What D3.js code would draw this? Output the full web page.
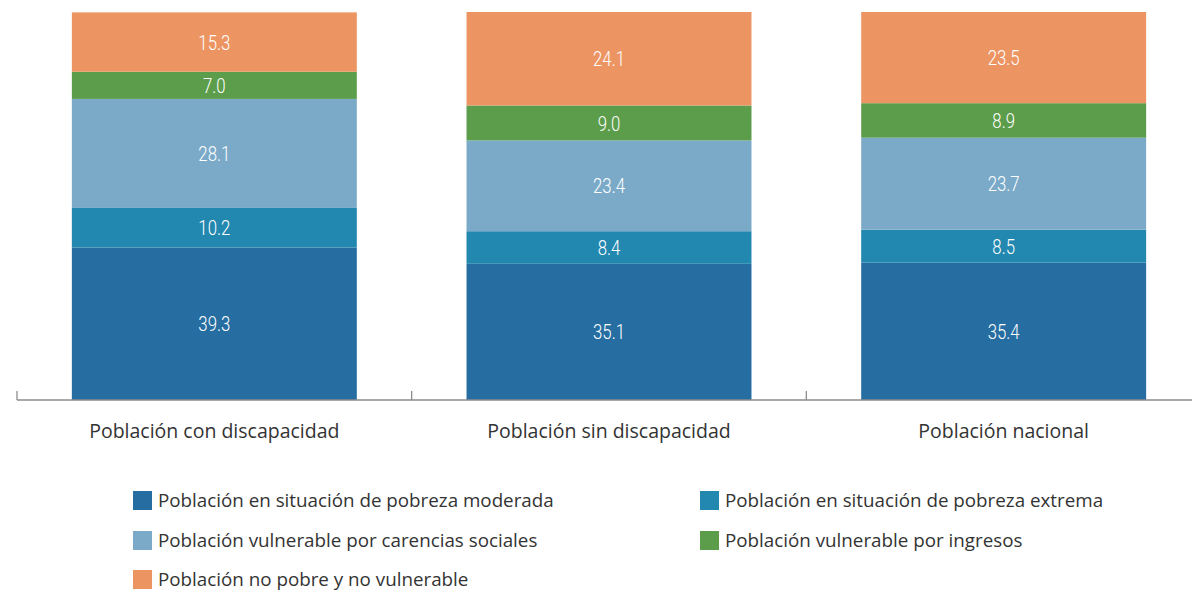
<!doctype html>
<html>
  <head>
    <meta charset="utf-8">
    <script src="https://cdn.jsdelivr.net/npm/d3@7"></script>
    <style>
      body { margin: 0; background: #fff; }
      svg { display: block; }
    </style>
  </head>
  <body>
    <svg id="chart" width="1192" height="594"></svg>

    <script>
      var categories = ["Población con discapacidad", "Población sin discapacidad", "Población nacional"];
      var seriesNames = [
        "Población en situación de pobreza moderada",
        "Población en situación de pobreza extrema",
        "Población vulnerable por carencias sociales",
        "Población vulnerable por ingresos",
        "Población no pobre y no vulnerable"
      ];
      var moderada = [39.3, 35.1, 35.4];
      var extrema = [10.2, 8.4, 8.5];
      var carencias = [28.1, 23.4, 23.7];
      var ingresos = [7.0, 9.0, 8.9];
      var noPobre = [15.3, 24.1, 23.5];
      var colors = ["#266ea1", "#2388b0", "#7aaac8", "#5c9d4b", "#ec9462"];

      var seriesValues = [moderada, extrema, carencias, ingresos, noPobre];
      var rows = categories.map(function(c, i) {
        var r = { cat: c };
        seriesNames.forEach(function(s, j) { r[s] = seriesValues[j][i]; });
        return r;
      });

      var svg = d3.select("#chart");

      var x = d3.scaleBand()
        .domain(categories)
        .range([17, 1201])
        .paddingInner(0.278)
        .paddingOuter(0.139);

      var y = d3.scaleLinear()
        .domain([0, 100])
        .range([400, 12]);

      var color = d3.scaleOrdinal().domain(seriesNames).range(colors);

      var stacked = d3.stack().keys(seriesNames)(rows);

      var layers = svg.append("g")
        .selectAll("g")
        .data(stacked)
        .enter()
        .append("g")
        .attr("fill", function(d) { return color(d.key); });

      layers.selectAll("rect")
        .data(function(d) { return d; })
        .enter()
        .append("rect")
        .attr("x", function(d) { return x(d.data.cat); })
        .attr("width", x.bandwidth())
        .attr("y", function(d) { return y(d[1]); })
        .attr("height", function(d) { return y(d[0]) - y(d[1]); });

      // value labels, narrow-ish like the original face
      layers.selectAll("text")
        .data(function(d) { return d.map(function(p) { return { p: p, key: d.key }; }); })
        .enter()
        .append("text")
        .attr("transform", function(d) {
          var cx = x(d.p.data.cat) + x.bandwidth() / 2;
          var cy = (y(d.p[0]) + y(d.p[1])) / 2;
          return "translate(" + cx + "," + cy + ") scale(0.8,1)";
        })
        .attr("dy", "0.36em")
        .attr("text-anchor", "middle")
        .attr("fill", "#fff")
        .style("font-family", "Roboto, sans-serif")
        .style("font-weight", 300)
        .style("font-size", "21px")
        .text(function(d) { return d.p.data[d.key].toFixed(1); });

      // axis
      var axis = svg.append("g").attr("transform", "translate(0,400)");
      axis.append("line")
        .attr("x1", 17).attr("x2", 1201)
        .attr("stroke", "#8c8c8c").attr("stroke-width", 1.3);
      var step = x.step();
      axis.selectAll("line.tick")
        .data(d3.range(categories.length + 1))
        .enter()
        .append("line")
        .attr("class", "tick")
        .attr("x1", function(i) { return 17 + i * step; })
        .attr("x2", function(i) { return 17 + i * step; })
        .attr("y1", -9).attr("y2", 0)
        .attr("stroke", "#8c8c8c").attr("stroke-width", 1.3);

      axis.selectAll("text")
        .data(categories)
        .enter()
        .append("text")
        .attr("x", function(d) { return x(d) + x.bandwidth() / 2; })
        .attr("y", 38)
        .attr("text-anchor", "middle")
        .attr("fill", "#333")
        .style("font-family", "'Open Sans', sans-serif")
        .style("font-size", "19.5px")
        .text(function(d) { return d; });

      // legend
      var legendPos = [[133, 500], [700, 500], [133, 540], [700, 540], [133, 579]];
      var legend = svg.append("g")
        .selectAll("g")
        .data(seriesNames)
        .enter()
        .append("g")
        .attr("transform", function(d, i) { return "translate(" + legendPos[i][0] + "," + legendPos[i][1] + ")"; });

      legend.append("rect")
        .attr("x", 0).attr("y", -9)
        .attr("width", 19).attr("height", 19)
        .attr("fill", function(d) { return color(d); });

      legend.append("text")
        .attr("x", 25)
        .attr("dy", "0.35em")
        .attr("fill", "#333")
        .style("font-family", "'Open Sans', sans-serif")
        .style("font-size", "18.8px")
        .text(function(d) { return d; });
    </script>
  </body>
</html>
